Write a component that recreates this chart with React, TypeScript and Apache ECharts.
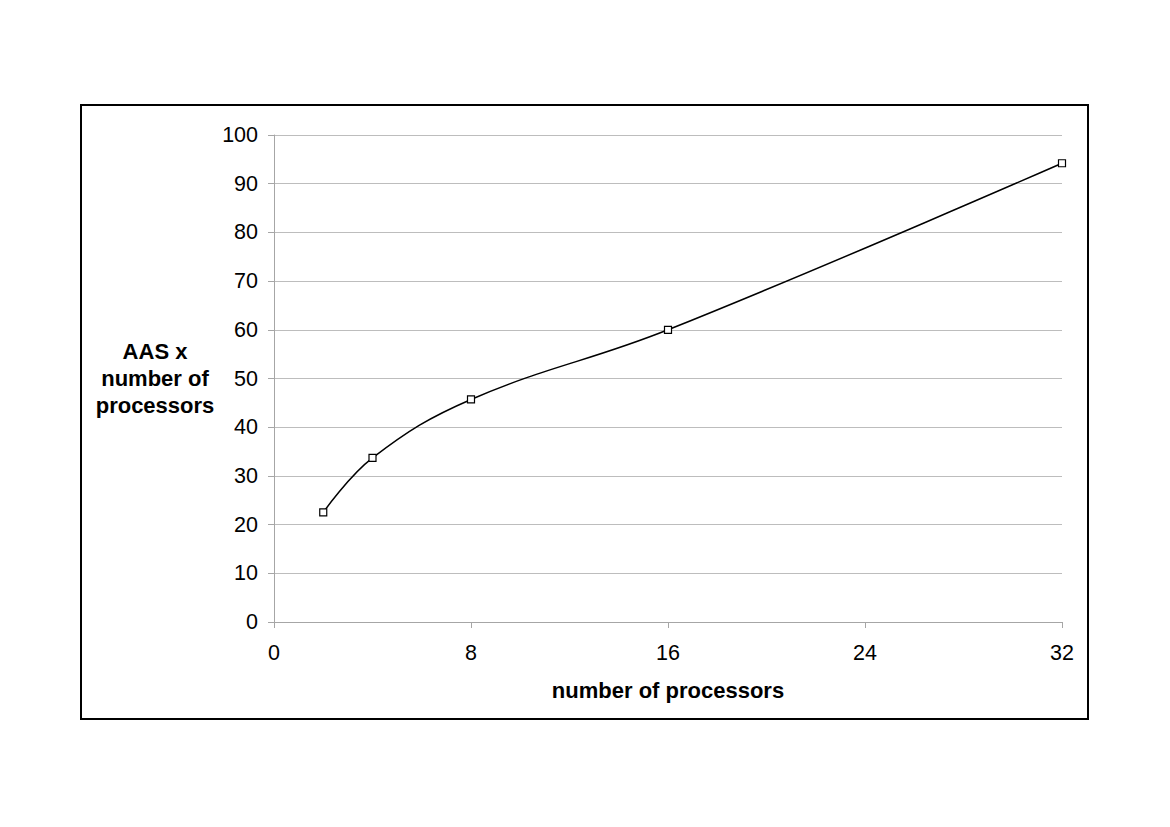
import React, { useEffect, useRef } from "react";
import * as echarts from "echarts";

const processors = [2, 4, 8, 16, 32];
const aasTimesProcessors = [22.5, 33.7, 45.7, 60.0, 94.2];
const xTicks = [0, 8, 16, 24, 32];
const yTicks = [0, 10, 20, 30, 40, 50, 60, 70, 80, 90, 100];

const FONT = "'Liberation Sans', Arial, Helvetica, sans-serif";

export default function App() {
  const ref = useRef<HTMLDivElement>(null);
  useEffect(() => {
    if (!ref.current) return;
    const chart = echarts.init(ref.current, null, { renderer: "svg" });
    chart.setOption({
      animation: false,
      backgroundColor: "#ffffff",
      textStyle: { fontFamily: FONT },
      grid: { left: 274, right: 108, top: 135, bottom: 205, containLabel: false },
      xAxis: {
        type: "value",
        min: xTicks[0],
        max: xTicks[xTicks.length - 1],
        interval: 8,
        name: "number of processors",
        nameLocation: "middle",
        nameGap: 57,
        nameTextStyle: { fontSize: 22, fontWeight: "bold", color: "#000", fontFamily: FONT },
        axisLine: { show: true, lineStyle: { color: "#a6a6a6", width: 1 } },
        axisTick: { show: true, length: 6, lineStyle: { color: "#a6a6a6" } },
        axisLabel: { fontSize: 21.5, color: "#000", margin: 20, fontFamily: FONT },
        splitLine: { show: false },
      },
      yAxis: {
        type: "value",
        min: yTicks[0],
        max: yTicks[yTicks.length - 1],
        interval: 10,
        name: "AAS x\nnumber of\nprocessors",
        nameLocation: "middle",
        nameRotate: 0,
        nameGap: 119,
        nameTextStyle: {
          fontSize: 22,
          fontWeight: "bold",
          color: "#000",
          align: "center",
          lineHeight: 27,
          fontFamily: FONT,
        },
        axisLine: { show: true, lineStyle: { color: "#a6a6a6", width: 1 } },
        axisTick: { show: true, length: 6, lineStyle: { color: "#a6a6a6" } },
        axisLabel: { fontSize: 21.5, color: "#000", margin: 16, fontFamily: FONT },
        splitLine: { show: true, lineStyle: { color: "#bdbdbd", width: 1 } },
      },
      graphic: [
        {
          type: "rect",
          shape: { x: 81, y: 105, width: 1007, height: 614 },
          style: { fill: "none", stroke: "#000", lineWidth: 2 },
          silent: true,
        },
      ],
      series: [
        {
          type: "line",
          data: processors.map((p, i) => [p, aasTimesProcessors[i]]),
          smooth: 0.4,
          symbol: "rect",
          symbolSize: 7,
          showAllSymbol: true,
          lineStyle: { color: "#000", width: 1.5 },
          itemStyle: { color: "#fff", borderColor: "#000", borderWidth: 1.2 },
          z: 3,
        },
      ],
    });
    return () => chart.dispose();
  }, []);
  return (
    <div
      ref={ref}
      style={{ position: "absolute", left: 0, top: 0, width: 1170, height: 827 }}
    />
  );
}
